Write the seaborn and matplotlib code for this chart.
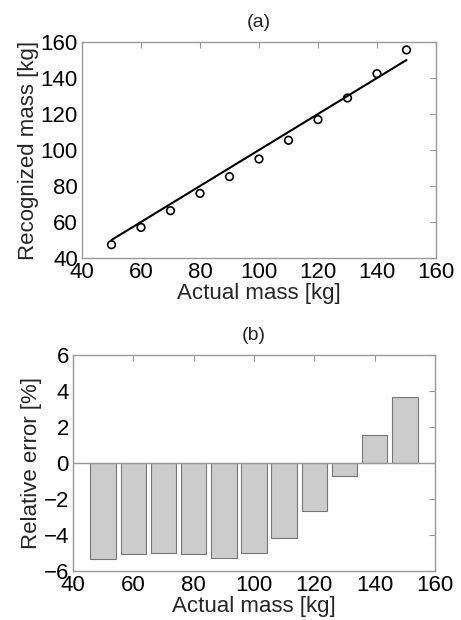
import numpy as np
import pandas as pd
import matplotlib
matplotlib.use("Agg")
import matplotlib.pyplot as plt
import seaborn as sns

# Daten
actual_mass = [50, 60, 70, 80, 90, 100, 110, 120, 130, 140, 150]
recognized_mass = [47.4, 57.0, 66.3, 75.9, 85.2, 95.0, 105.4, 116.9, 128.9, 142.4, 155.6]
fit_x = [50, 150]
fit_y = [50, 150]
relative_error = [-5.33, -5.07, -4.98, -5.07, -5.26, -5.02, -4.15, -2.67, -0.72, 1.54, 3.65]

df = pd.DataFrame({"actual": actual_mass, "recognized": recognized_mass,
                   "error": relative_error})

sns.set_style("white")
plt.rcParams["font.family"] = ["Liberation Sans", "DejaVu Sans"]
plt.rcParams["xtick.direction"] = "in"
plt.rcParams["ytick.direction"] = "in"

fig = plt.figure(figsize=(4.61, 6.2), dpi=100)
ax1 = fig.add_axes([82 / 461, 1 - 258 / 620, 354 / 461, 216 / 620])
ax2 = fig.add_axes([73 / 461, 1 - 571 / 620, 362 / 461, 216 / 620])

spine_col = "#999999"


def style(ax):
    for s in ax.spines.values():
        s.set_color(spine_col)
        s.set_linewidth(1.0)
    ax.tick_params(which="both", colors=spine_col, labelcolor="black",
                   labelsize=16, length=4, top=True, right=True)
    ax.tick_params(axis="x", pad=3)
    ax.tick_params(axis="y", pad=3)


# (a)
sns.lineplot(x=fit_x, y=fit_y, ax=ax1, color="black", linewidth=1.5)
sns.scatterplot(data=df, x="actual", y="recognized", ax=ax1, marker="o",
                facecolor="none", edgecolor="black", linewidth=1.2, s=30)
ax1.set_xlim(40, 160)
ax1.set_ylim(40, 160)
ax1.set_xticks(range(40, 161, 20))
ax1.set_yticks(range(40, 161, 20))
ax1.set_xlabel("Actual mass [kg]", fontsize=16, labelpad=0)
ax1.set_ylabel("Recognized mass [kg]", fontsize=16, labelpad=1)
ax1.set_title("(a)", fontsize=14, pad=11)
style(ax1)

# (b)
sns.barplot(data=df, x="actual", y="error", ax=ax2, native_scale=True,
            color="#cccccc", edgecolor="#777777", linewidth=0.8,
            saturation=1, width=0.84)
ax2.axhline(0, color=spine_col, linewidth=1.0)
ax2.set_xlim(40, 160)
ax2.set_ylim(-6, 6)
ax2.set_xticks(range(40, 161, 20))
ax2.set_yticks(range(-6, 7, 2))
ax2.set_xlabel("Actual mass [kg]", fontsize=16, labelpad=0)
ax2.set_ylabel("Relative error [%]", fontsize=16, labelpad=1)
ax2.set_title("(b)", fontsize=14, pad=11)
style(ax2)

fig.savefig("out.png", dpi=100)
